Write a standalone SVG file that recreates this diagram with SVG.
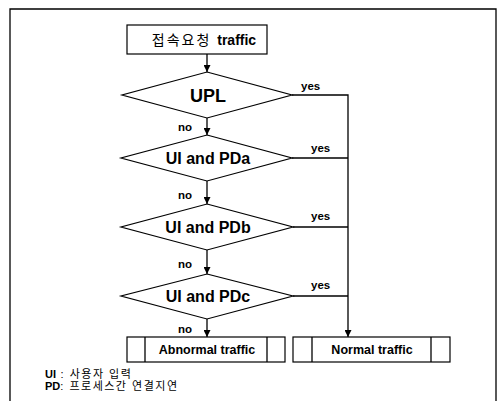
<svg xmlns="http://www.w3.org/2000/svg" width="497" height="401" viewBox="0 0 497 401">
  <defs>
    <marker id="arr" viewBox="0 0 10 10" refX="10" refY="5" markerWidth="7" markerHeight="7" orient="auto" markerUnits="userSpaceOnUse">
      <path d="M0,0 L10,5 L0,10 z" fill="#000"/>
    </marker>
  </defs>
  <style>
    .shape { fill: #fff; stroke: #000; stroke-width: 1.2; }
    .line { fill: none; stroke: #000; stroke-width: 1.3; }
    .lbl { font-family: "Liberation Sans", Arial, sans-serif; font-weight: bold; fill: #000; }
    .cond { font-size: 16px; text-anchor: middle; }
    .yn { font-size: 11.5px; }
    .box { font-size: 12.5px; text-anchor: middle; }
    .legend { font-family: "Liberation Sans", "Noto Sans CJK KR", sans-serif; font-size: 11px; fill: #000; }
  </style>
  <rect width="497" height="401" fill="#fff"/>
  <!-- outer frame -->
  <path d="M10,405 L10,9 L496,9 L496,405" fill="none" stroke="#000" stroke-width="1.3"/>

  <g id="start">
    <rect class="shape" x="127" y="25" width="140" height="29"/>
    <text x="204" y="45" font-size="14" text-anchor="middle" font-family="'Liberation Sans', 'Noto Sans CJK KR', sans-serif"><tspan letter-spacing="2">접속요청 </tspan><tspan font-weight="bold">traffic</tspan></text>
  </g>

  <g id="upl">
    <polygon class="shape" points="207,72 292,95 207,118 122,95"/>
    <text class="lbl" x="208" y="102" font-size="18" text-anchor="middle">UPL</text>
  </g>

  <g id="pda">
    <polygon class="shape" points="207,135 292,158 207,181 121,158"/>
    <text class="lbl cond" x="208" y="164">UI and PDa</text>
  </g>

  <g id="pdb">
    <polygon class="shape" points="207,204 293,227 207,250 121,227"/>
    <text class="lbl cond" x="208" y="233">UI and PDb</text>
  </g>

  <g id="pdc">
    <polygon class="shape" points="207,274 293,296 207,319 121,296"/>
    <text class="lbl cond" x="208" y="302">UI and PDc</text>
  </g>

  <g id="abnormal">
    <rect class="shape" x="127" y="337" width="158" height="25"/>
    <line class="line" x1="145" y1="337" x2="145" y2="362"/>
    <line class="line" x1="267" y1="337" x2="267" y2="362"/>
    <text class="lbl box" x="207" y="354">Abnormal traffic</text>
  </g>

  <g id="normal">
    <rect class="shape" x="293" y="337" width="157" height="25"/>
    <line class="line" x1="312" y1="337" x2="312" y2="362"/>
    <line class="line" x1="431" y1="337" x2="431" y2="362"/>
    <text class="lbl box" x="372" y="354">Normal traffic</text>
  </g>

  <g id="connectors">
    <line class="line" x1="207" y1="54" x2="207" y2="72" marker-end="url(#arr)"/>
    <line class="line" x1="207" y1="118" x2="207" y2="135" marker-end="url(#arr)"/>
    <line class="line" x1="207" y1="181" x2="207" y2="204" marker-end="url(#arr)"/>
    <line class="line" x1="207" y1="250" x2="207" y2="274" marker-end="url(#arr)"/>
    <line class="line" x1="207" y1="319" x2="207" y2="337" marker-end="url(#arr)"/>
    <polyline class="line" points="292,95 348,95 348,337" marker-end="url(#arr)"/>
    <line class="line" x1="292" y1="158" x2="348" y2="158"/>
    <line class="line" x1="293" y1="227" x2="348" y2="227"/>
    <line class="line" x1="293" y1="296" x2="348" y2="296"/>
    <text class="lbl yn" x="301" y="90">yes</text>
    <text class="lbl yn" x="311" y="152">yes</text>
    <text class="lbl yn" x="311" y="220">yes</text>
    <text class="lbl yn" x="311" y="289">yes</text>
    <text class="lbl yn" x="178" y="131">no</text>
    <text class="lbl yn" x="178" y="199">no</text>
    <text class="lbl yn" x="178" y="268">no</text>
    <text class="lbl yn" x="178" y="333">no</text>
  </g>

  <g id="legend">
    <text class="legend" x="45" y="378" letter-spacing="1.5"><tspan font-weight="bold" letter-spacing="0">UI</tspan> : 사용자 입력</text>
    <text class="legend" x="45" y="390" letter-spacing="1.5"><tspan font-weight="bold" letter-spacing="0">PD</tspan>: 프로세스간 연결지연</text>
  </g>
</svg>
